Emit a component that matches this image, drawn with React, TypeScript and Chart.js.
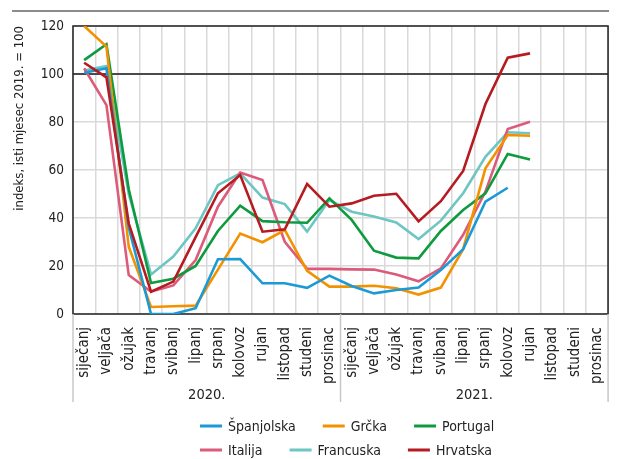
import React, { useEffect, useRef } from "react";
import { Chart, registerables } from "chart.js";

Chart.register(...registerables);

const months = ["siječanj", "veljača", "ožujak", "travanj", "svibanj", "lipanj", "srpanj", "kolovoz", "rujan", "listopad", "studeni", "prosinac"];
const categories = [...months, ...months];
const years = ["2020.", "2021."];
const yTicks = [0, 20, 40, 60, 80, 100, 120];

const spanjolska = [100.5, 102.4, 36, 0, 0, 2.4, 22.8, 22.9, 12.8, 12.8, 10.9, 16, 11.7, 8.6, 10, 11, 18.3, 27, 46.8, 52.6, null, null, null, null];
const grcka = [120, 111.4, 28, 2.9, 3.2, 3.5, 18.5, 33.5, 29.9, 35, 18, 11.4, 11.4, 11.8, 10.7, 8.1, 11, 27, 60.7, 74.6, 74.3, null, null, null];
const portugal = [105.8, 112.4, 52, 12.9, 14.7, 20, 34.6, 45.1, 38.7, 38.2, 38, 48.2, 39.2, 26.4, 23.5, 23.2, 34.6, 43.3, 50.3, 66.7, 64.4, null, null, null];
const italija = [102.4, 87, 16.2, 9.3, 11.9, 22.5, 44.7, 58.9, 55.8, 30.1, 18.8, 18.8, 18.6, 18.5, 16.5, 13.6, 19, 33, 51, 77.1, 80.1, null, null, null];
const francuska = [101.4, 103.3, 50, 16.5, 23.9, 35.7, 53.7, 58.6, 48.5, 45.8, 34.3, 47.5, 42.6, 40.6, 38.1, 31.2, 38.9, 50.3, 65.5, 75.7, 75.3, null, null, null];
const hrvatska = [104.7, 98.6, 37.8, 9.3, 13.5, 32, 50.3, 57.9, 34.3, 35.3, 54.2, 44.7, 46.1, 49.3, 50.1, 38.6, 47, 59.6, 87.5, 106.8, 108.6, null, null, null];

const seriesNames = ["Španjolska", "Grčka", "Portugal", "Italija", "Francuska", "Hrvatska"];
const seriesColors = ["#1b9ad6", "#f39200", "#0d9b3e", "#dc5a7a", "#6dc6c1", "#b51b20"];
const seriesData = [spanjolska, grcka, portugal, italija, francuska, hrvatska];

const FONT = "'Liberation Sans Narrow', 'DejaVu Sans Condensed', 'Arial Narrow', 'Liberation Sans', sans-serif";

const overlay = {
  id: "overlay",
  beforeDatasetsDraw(chart: any) {
    const { ctx, chartArea } = chart;
    ctx.save();
    ctx.strokeStyle = "#222";
    ctx.lineWidth = 1.5;
    ctx.strokeRect(chartArea.left, chartArea.top, chartArea.right - chartArea.left, chartArea.bottom - chartArea.top);
    ctx.restore();
  },
  afterDraw(chart: any) {
    const { ctx, chartArea, scales } = chart;
    const x = scales.x;
    ctx.save();
    ctx.strokeStyle = "#666";
    ctx.lineWidth = 1.5;
    ctx.beginPath();
    ctx.moveTo(12, 11);
    ctx.lineTo(chartArea.right + 1, 11);
    ctx.stroke();
    const mid = (x.getPixelForValue(11) + x.getPixelForValue(12)) / 2;
    ctx.strokeStyle = "#c8c8c8";
    ctx.lineWidth = 1.5;
    [chartArea.left, mid, chartArea.right].forEach((px: number) => {
      ctx.beginPath();
      ctx.moveTo(px, chartArea.bottom);
      ctx.lineTo(px, 402);
      ctx.stroke();
    });
    ctx.fillStyle = "#222";
    ctx.font = `14.5px ${FONT}`;
    ctx.textAlign = "center";
    ctx.textBaseline = "middle";
    years.forEach((yr, i) => {
      const c = (x.getPixelForValue(i * 12 + 5) + x.getPixelForValue(i * 12 + 6)) / 2;
      ctx.fillText(yr, c, 395);
    });
    ctx.font = `14px ${FONT}`;
    ctx.textAlign = "left";
    const rows = [[0, 1, 2], [3, 4, 5]];
    const rowY = [426, 450];
    rows.forEach((row, r) => {
      let px = 200;
      row.forEach((i) => {
        ctx.strokeStyle = seriesColors[i];
        ctx.lineWidth = 3;
        ctx.beginPath();
        ctx.moveTo(px, rowY[r]);
        ctx.lineTo(px + 22, rowY[r]);
        ctx.stroke();
        ctx.fillStyle = "#222";
        ctx.fillText(seriesNames[i], px + 28, rowY[r] + 1);
        px += 28 + ctx.measureText(seriesNames[i]).width + 27;
      });
    });
    ctx.restore();
  },
};

export default function App() {
  const ref = useRef<HTMLCanvasElement>(null);
  useEffect(() => {
    if (!ref.current) return;
    const chart = new Chart(ref.current, {
      type: "line",
      data: {
        labels: categories,
        datasets: seriesData.map((d, i) => ({
          label: seriesNames[i],
          data: d,
          borderColor: seriesColors[i],
          backgroundColor: seriesColors[i],
          borderWidth: 2.6,
          pointRadius: 0,
          tension: 0,
          spanGaps: false,
          order: i === 5 ? -1 : i,
        })),
      },
      options: {
        responsive: false,
        animation: false,
        devicePixelRatio: 1,
        layout: { padding: { top: 26, right: 4, left: 0, bottom: 0 } },
        plugins: { legend: { display: false }, tooltip: { enabled: false } },
        scales: {
          x: {
            offset: true,
            grid: { offset: true, color: "#d9d9d9", lineWidth: 1.5, drawTicks: false },
            border: { display: false },
            ticks: {
              autoSkip: false,
              minRotation: 90,
              maxRotation: 90,
              padding: 13,
              color: "#222",
              font: { family: FONT, size: 15 },
            },
            afterFit: (s: any) => { s.height = 145; },
          },
          y: {
            min: 0,
            max: 120,
            afterBuildTicks: (s: any) => { s.ticks = yTicks.map((v) => ({ value: v })); },
            grid: {
              color: (c: any) => (c.tick && c.tick.value === 100 ? "#4a4a4a" : "#d9d9d9"),
              lineWidth: (c: any) => (c.tick && c.tick.value === 100 ? 2 : 1.5),
              drawTicks: false,
            },
            border: { display: false },
            ticks: { padding: 9, color: "#222", font: { family: FONT, size: 13.5 } },
            title: {
              display: true,
              text: "indeks, isti mjesec 2019. = 100",
              color: "#222",
              align: "end",
              font: { family: FONT, size: 13 },
              padding: { top: 12, bottom: 0 },
            },
            afterFit: (s: any) => { s.width = 73; },
          },
        },
      },
      plugins: [overlay],
    });
    return () => chart.destroy();
  }, []);
  return (
    <div style={{ position: "absolute", left: 0, top: 0, width: 628, height: 459, background: "#fff" }}>
      <canvas ref={ref} width={628} height={459} />
    </div>
  );
}
